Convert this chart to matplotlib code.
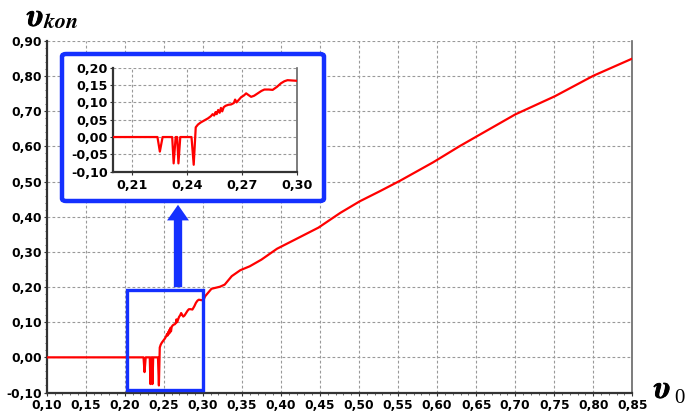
import matplotlib
matplotlib.use("Agg")
import matplotlib.pyplot as plt
import matplotlib.patheffects as pe
from matplotlib.ticker import FixedLocator, FuncFormatter, MultipleLocator
from matplotlib.patches import Rectangle, FancyBboxPatch, FancyArrowPatch

plt.rcParams['mathtext.fontset'] = 'stix'
plt.rcParams['font.family'] = ['DejaVu Sans']
plt.rcParams['font.weight'] = 'bold'

# initial value v0 and resulting v_kon
v0 = [0.100, 0.2240, 0.2253, 0.2268, 0.2320, 0.2328, 0.2339, 0.2347, 0.2354,
      0.2364, 0.2425, 0.2437, 0.2448, 0.2460, 0.2475, 0.2495, 0.2515, 0.2530,
      0.2540, 0.2548, 0.2556, 0.2562, 0.2570, 0.2578, 0.2585, 0.2592, 0.2600,
      0.2610, 0.2625, 0.2640, 0.2655, 0.2662, 0.2670, 0.2680, 0.2695, 0.2710,
      0.2722, 0.2735, 0.2749, 0.2765, 0.2785, 0.2805, 0.2821, 0.2845, 0.2866,
      0.2890, 0.2911, 0.2930, 0.2947, 0.2975, 0.3005, 0.3030, 0.311, 0.322,
      0.328, 0.337, 0.348, 0.360, 0.375, 0.395, 0.418, 0.448, 0.476, 0.501,
      0.527, 0.553, 0.595, 0.629, 0.655, 0.700, 0.751, 0.800, 0.850]
v_kon = [0.000, 0.000, -0.042, 0.000, 0.000, -0.076, 0.000, 0.000, -0.076,
         0.000, 0.000, -0.080, 0.028, 0.036, 0.042, 0.048, 0.054, 0.060,
         0.066, 0.062, 0.072, 0.066, 0.078, 0.070, 0.084, 0.074, 0.086,
         0.090, 0.093, 0.094, 0.098, 0.108, 0.100, 0.106, 0.115, 0.120,
         0.126, 0.121, 0.116, 0.119, 0.126, 0.133, 0.137, 0.137, 0.136,
         0.145, 0.155, 0.161, 0.164, 0.163, 0.162, 0.174, 0.195, 0.201,
         0.207, 0.231, 0.248, 0.259, 0.278, 0.309, 0.335, 0.369, 0.411, 0.444,
         0.473, 0.503, 0.555, 0.601, 0.634, 0.691, 0.743, 0.801, 0.850]

main_xticks = [0.10, 0.15, 0.20, 0.25, 0.30, 0.35, 0.40, 0.45, 0.50, 0.55,
               0.60, 0.65, 0.70, 0.75, 0.80, 0.85]
main_yticks = [-0.10, 0.00, 0.10, 0.20, 0.30, 0.40, 0.50, 0.60, 0.70, 0.80, 0.90]
inset_xticks = [0.21, 0.24, 0.27, 0.30]
inset_yticks = [-0.10, -0.05, 0.00, 0.05, 0.10, 0.15, 0.20]

W, H = 687, 413
BLUE = '#1430ff'
RED = '#ff0000'
GRID = '#999999'
comma = FuncFormatter(lambda v, p: f'{v:.2f}'.replace('.', ','))


def fx(px):
    return px / W


def fy(py):
    return 1 - py / H


def style_axes(ax, xticks, yticks, xgrid, ygrid, size):
    ax.set_facecolor('white')
    ax.xaxis.set_major_locator(FixedLocator(xticks))
    ax.yaxis.set_major_locator(FixedLocator(yticks))
    ax.xaxis.set_major_formatter(comma)
    ax.yaxis.set_major_formatter(comma)
    for g in xgrid:
        ax.axvline(g, color=GRID, lw=0.8, ls=(0, (2.5, 2)), zorder=1)
    for g in ygrid:
        ax.axhline(g, color=GRID, lw=0.8, ls=(0, (2.5, 2)), zorder=1)
    for s in ('left', 'bottom'):
        ax.spines[s].set_color('#333333')
        ax.spines[s].set_linewidth(1.6)
    ax.spines['right'].set_color('#666666')
    ax.spines['right'].set_linewidth(1.2)
    ax.spines['top'].set_visible(False)
    ax.tick_params(axis='both', which='major', length=2.5, width=0.8,
                   color='#333333', labelsize=size, labelcolor='black')
    ax.tick_params(axis='both', which='minor', length=1.5, width=0.6,
                   color='#555555')


fig = plt.figure(figsize=(W / 100, H / 100), dpi=100)
fig.patch.set_facecolor('white')

# main axes
ax = fig.add_axes([fx(46.7), fy(392.5), fx(632.3) - fx(46.7), fy(41) - fy(392.5)])
ax.set_xlim(0.10, 0.85)
ax.set_ylim(-0.10, 0.90)
style_axes(ax, main_xticks, main_yticks, main_xticks[1:], main_yticks[1:], 8.8)
ax.xaxis.set_minor_locator(MultipleLocator(0.01))
ax.yaxis.set_minor_locator(MultipleLocator(0.02))
ax.tick_params(axis='x', pad=2.5)
ax.tick_params(axis='y', pad=1.2)
ax.plot(v0, v_kon, color=RED, lw=1.6, zorder=3)

# zoom frame around the transition region
ax.add_patch(Rectangle((0.2025, -0.094), 0.098, 0.287, fill=False,
                       edgecolor=BLUE, lw=2.4, zorder=4, clip_on=False))

# inset frame
frame = FancyBboxPatch((fx(62), fy(201)), fx(324) - fx(62), fy(54) - fy(201),
                       boxstyle='round,pad=0,rounding_size=0.006',
                       transform=fig.transFigure, facecolor='white',
                       edgecolor=BLUE, lw=3.2, zorder=5)
fig.add_artist(frame)

# arrow from zoom frame up to inset
arrow = FancyArrowPatch((fx(178), fy(290)), (fx(178), fy(202)),
                        transform=fig.transFigure,
                        arrowstyle='simple,head_length=0.75,head_width=1.05,tail_width=0.4',
                        mutation_scale=15, color=BLUE, lw=0, zorder=5)
fig.add_artist(arrow)

# inset axes
ins = fig.add_axes([fx(113.3), fy(171.7), fx(297.3) - fx(113.3), fy(67.7) - fy(171.7)],
                   zorder=6)
ins.set_xlim(0.20, 0.30)
ins.set_ylim(-0.10, 0.20)
style_axes(ins, inset_xticks, inset_yticks, [0.21, 0.24, 0.27],
           inset_yticks[1:], 9.2)
ins.tick_params(axis='x', pad=3)
ins.tick_params(axis='y', pad=1.2)
ins.plot(v0, v_kon, color=RED, lw=1.6, zorder=3)

# axis symbols
heavy = [pe.withStroke(linewidth=0.6, foreground='black')]
fig.text(fx(27), fy(26), r'$\upsilon$', fontsize=23, color='black',
         ha='left', va='baseline', path_effects=heavy)
fig.text(fx(43), fy(28), r'$kon$', fontsize=16, color='black',
         ha='left', va='baseline')
fig.text(fx(654), fy(398), r'$\upsilon$', fontsize=23, color='black',
         ha='left', va='baseline', path_effects=heavy)
fig.text(fx(674), fy(403), '0', fontsize=15, color='black',
         family='Liberation Serif', weight='normal', ha='left', va='baseline')

fig.savefig('out.png', dpi=100, facecolor='white')
